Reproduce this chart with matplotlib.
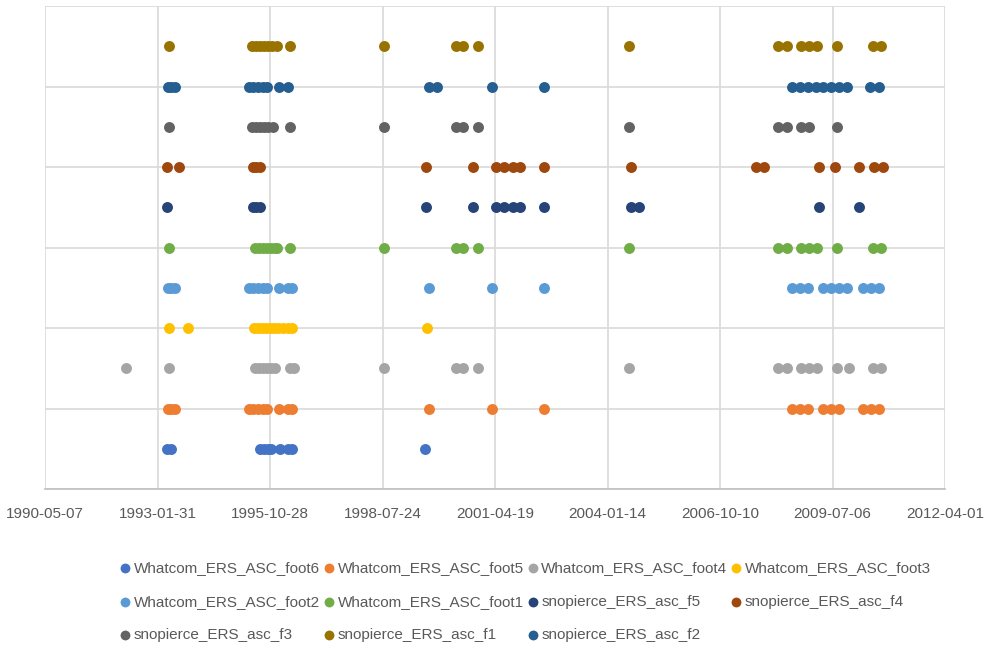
import numpy as np
import matplotlib.pyplot as plt
from datetime import datetime, timedelta

# Acquisition dates (decimal years) per track
foot6 = [1993.31, 1993.42, 1995.58, 1995.67, 1995.77, 1995.85, 1996.06, 1996.26, 1996.36, 1999.59]
foot5 = [1993.34, 1993.42, 1993.51, 1995.31, 1995.41, 1995.53, 1995.65, 1995.75, 1996.05, 1996.26, 1996.36,
         1999.70, 2001.23, 2002.48,
         2008.52, 2008.72, 2008.91, 2009.29, 2009.47, 2009.67, 2010.25, 2010.44, 2010.63]
foot4 = [1992.32, 1993.36, 1995.46, 1995.55, 1995.65, 1995.75, 1995.85, 1995.94, 1996.31, 1996.40,
         1998.60, 2000.34, 2000.53, 2000.89, 2004.55,
         2008.18, 2008.40, 2008.74, 2008.94, 2009.14, 2009.61, 2009.90, 2010.49, 2010.68]
foot3 = [1993.36, 1993.83, 1995.43, 1995.53, 1995.63, 1995.72, 1995.82, 1995.92, 1996.02, 1996.14,
         1996.26, 1996.36, 1999.64]
foot2 = [1993.34, 1993.42, 1993.51, 1995.31, 1995.41, 1995.53, 1995.65, 1995.75, 1996.05, 1996.26, 1996.36,
         1999.70, 2001.23, 2002.48,
         2008.52, 2008.72, 2008.91, 2009.29, 2009.47, 2009.67, 2009.86, 2010.25, 2010.44, 2010.63]
foot1 = [1993.36, 1995.46, 1995.55, 1995.65, 1995.75, 1995.85, 1995.94, 1995.99, 1996.31,
         1998.60, 2000.34, 2000.53, 2000.89, 2004.55,
         2008.18, 2008.40, 2008.74, 2008.94, 2009.14, 2009.61, 2010.49, 2010.68]
f5 = [1993.32, 1995.41, 1995.49, 1995.58,
      1999.62, 2000.77, 2001.32, 2001.52, 2001.73, 2001.91, 2002.48, 2004.60, 2004.80,
      2009.19, 2010.15]
f4 = [1993.32, 1993.61, 1995.41, 1995.49, 1995.58,
      1999.62, 2000.77, 2001.32, 2001.52, 2001.73, 2001.91, 2002.48, 2004.60,
      2007.65, 2007.84, 2009.19, 2009.57, 2010.15, 2010.52, 2010.73]
f3 = [1993.36, 1995.38, 1995.48, 1995.58, 1995.67, 1995.77, 1995.89, 1996.31,
      1998.60, 2000.34, 2000.53, 2000.89, 2004.55,
      2008.18, 2008.40, 2008.74, 2008.94, 2009.61]
f1 = [1993.36, 1995.38, 1995.48, 1995.58, 1995.67, 1995.77, 1995.87, 1995.99, 1996.31,
      1998.60, 2000.34, 2000.53, 2000.89, 2004.55,
      2008.18, 2008.40, 2008.74, 2008.94, 2009.14, 2009.61, 2010.49, 2010.68]
f2 = [1993.34, 1993.42, 1993.51, 1995.31, 1995.41, 1995.53, 1995.65, 1995.75, 1996.05, 1996.26,
      1999.70, 1999.89, 2001.23, 2002.48,
      2008.52, 2008.72, 2008.91, 2009.11, 2009.29, 2009.47, 2009.67, 2009.86, 2010.42, 2010.63]

names = ['Whatcom_ERS_ASC_foot6', 'Whatcom_ERS_ASC_foot5', 'Whatcom_ERS_ASC_foot4',
         'Whatcom_ERS_ASC_foot3', 'Whatcom_ERS_ASC_foot2', 'Whatcom_ERS_ASC_foot1',
         'snopierce_ERS_asc_f5', 'snopierce_ERS_asc_f4', 'snopierce_ERS_asc_f3',
         'snopierce_ERS_asc_f1', 'snopierce_ERS_asc_f2']
series = [foot6, foot5, foot4, foot3, foot2, foot1, f5, f4, f3, f1, f2]
levels = [1, 2, 3, 4, 5, 6, 7, 8, 9, 11, 10]
colors = ['#4472c4', '#ed7d31', '#a5a5a5', '#ffc000', '#5b9bd5', '#70ad47',
          '#264478', '#9e480e', '#636363', '#997300', '#255e91']

tick_dates = ['1990-05-07', '1993-01-31', '1995-10-28', '1998-07-24', '2001-04-19',
              '2004-01-14', '2006-10-10', '2009-07-06', '2012-04-01']


def to_date(y):
    yr = int(y)
    return datetime(yr, 1, 1) + timedelta(days=(y - yr) * 365.25)


plt.rcParams['font.family'] = ['Liberation Sans', 'DejaVu Sans']

fig = plt.figure(figsize=(9.86, 6.45), dpi=100)
ax = fig.add_axes([45 / 986, 1 - 489 / 645, 900 / 986, 483 / 645])

handles = []
for vals, lev, c, n in zip(series, levels, colors, names):
    d = [to_date(v) for v in vals]
    h = ax.scatter(d, [lev] * len(d), s=62, color=c, label=n, zorder=3, linewidths=0)
    handles.append(h)

ticks = [datetime.strptime(t, '%Y-%m-%d') for t in tick_dates]
ax.set_xlim(ticks[0], ticks[-1])
ax.set_xticks(ticks)
ax.set_xticklabels(tick_dates, fontsize=11, color='#595959')
ax.set_ylim(0, 12)
ax.set_yticks(np.arange(0, 13, 2))
ax.set_yticklabels([])
ax.tick_params(axis='both', length=0, pad=13)
ax.grid(True, color='#d9d9d9', linewidth=1.2, zorder=0)
for s in ['top', 'right', 'left']:
    ax.spines[s].set_visible(False)
ax.spines['bottom'].set_color('#bfbfbf')
ax.spines['bottom'].set_linewidth(1.2)

# legend in row order like the original (matplotlib fills column-wise)
order = [0, 4, 8, 1, 5, 9, 2, 6, 10, 3, 7]
fig.legend([handles[i] for i in order], [names[i] for i in order],
           loc='upper left', bbox_to_anchor=(104 / 986, 1 - 547 / 645), ncol=4,
           frameon=False, fontsize=11, labelcolor='#595959', markerscale=0.9,
           handletextpad=0.05, columnspacing=0.1, labelspacing=1.3, handlelength=1.0)

fig.savefig('out.png', dpi=100)
